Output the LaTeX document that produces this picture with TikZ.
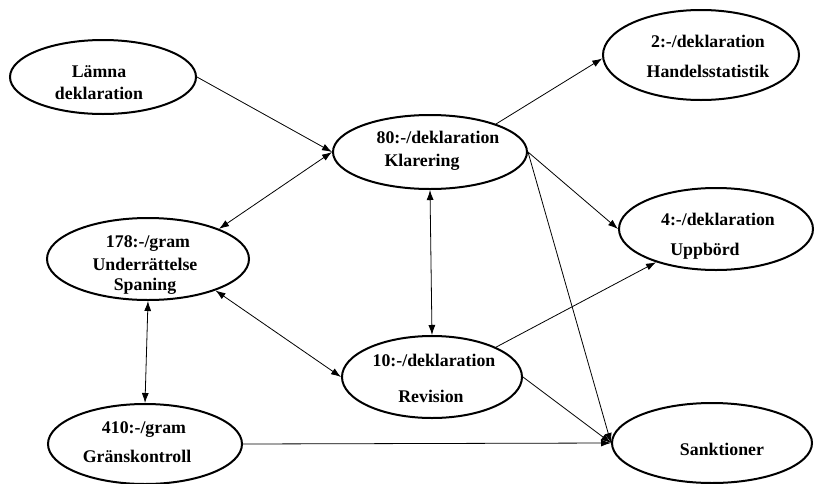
\documentclass[tikz,border=0pt]{standalone}
\usepackage{fontspec}
\setmainfont{Liberation Serif}
\usetikzlibrary{shapes.geometric,arrows.meta}
\begin{document}
\begin{tikzpicture}[x=1pt,y=-1pt,
  oval/.style={ellipse,draw,line width=2pt,inner sep=0pt},
  lbl/.style={inner sep=0pt,text height=11.8pt,text depth=0pt,font=\fontsize{17.8}{20}\selectfont\bfseries},
  conn/.style={line width=0.8pt,-{Latex[length=10pt,width=7pt]}},
  bconn/.style={line width=0.8pt,{Latex[length=10pt,width=7pt]}-{Latex[length=10pt,width=7pt]}}]
\useasboundingbox (0,0) rectangle (815,483);
% ellipses
\node[oval,minimum width=186pt,minimum height=74pt] (lam) at (103,77) {};
\node[oval,minimum width=194pt,minimum height=74pt] (kla) at (430,152) {};
\node[oval,minimum width=196pt,minimum height=90pt] (han) at (701,55) {};
\node[oval,minimum width=194pt,minimum height=82pt] (upp) at (716,229) {};
\node[oval,minimum width=202pt,minimum height=82pt] (und) at (148,259) {};
\node[oval,minimum width=180pt,minimum height=82pt] (rev) at (432,377) {};
\node[oval,minimum width=194pt,minimum height=80pt] (gra) at (145,444) {};
\node[oval,minimum width=200pt,minimum height=80pt] (san) at (712,443) {};
% texts
\node[lbl] (t1a) at (99,72) {Lämna};
\node[lbl] (t1b) at (99,94) {deklaration};
\node[lbl] (t2a) at (438,138) {80:-/deklaration};
\node[lbl] (t2b) at (422,161) {Klarering};
\node[lbl] (t3a) at (708,42) {2:-/deklaration};
\node[lbl] (t3b) at (708,72) {Handelsstatistik};
\node[lbl] (t4a) at (718,220) {4:-/deklaration};
\node[lbl] (t4b) at (705,250) {Uppbörd};
\node[lbl] (t5a) at (148,242) {178:-/gram};
\node[lbl] (t5b) at (145,265) {Underrättelse};
\node[lbl] (t5c) at (145,285) {Spaning};
\node[lbl] (t6a) at (434,361) {10:-/deklaration};
\node[lbl] (t6b) at (431,397) {Revision};
\node[lbl] (t7a) at (144,428) {410:-/gram};
\node[lbl] (t7b) at (137,457) {Gränskontroll};
\node[lbl] (t8a) at (722,450) {Sanktioner};
% connectors
\draw[conn] (lam.east) -- (kla.west);
\draw[bconn] (kla.west) -- (und.23);
\draw[conn] (kla.23) -- (han.182);
\draw[conn] (kla.east) -- (upp.west);
\draw[conn] (kla.east) -- (san.west);
\draw[bconn] (kla.south) -- (rev.north);
\draw[bconn] (und.-25) -- (rev.west);
\draw[conn] (rev.25) -- (upp.209);
\draw[conn] (rev.east) -- (san.west);
\draw[bconn] (und.south) -- (gra.north);
\draw[conn] (gra.east) -- (san.west);
\end{tikzpicture}
\end{document}
